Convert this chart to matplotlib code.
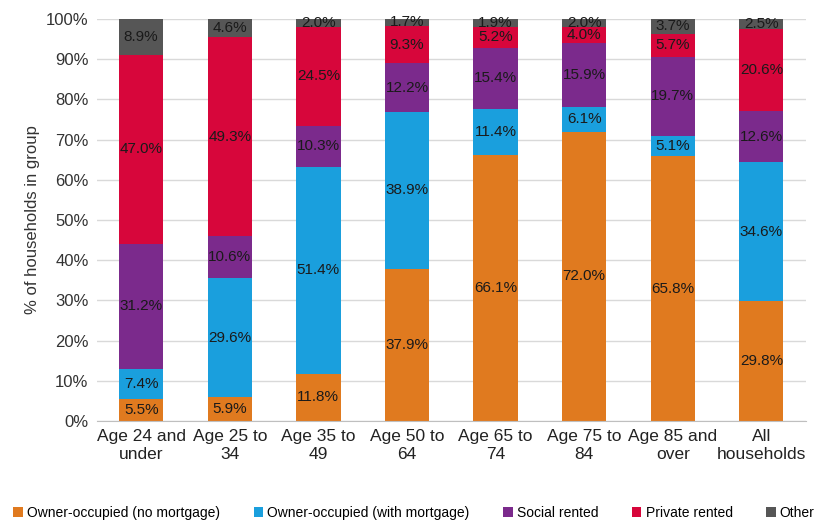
import matplotlib
matplotlib.use("Agg")
import matplotlib.pyplot as plt
import numpy as np

plt.rcParams['font.family'] = ['Liberation Sans', 'DejaVu Sans']

categories = ["Age 24 and\nunder", "Age 25 to\n34", "Age 35 to\n49", "Age 50 to\n64",
              "Age 65 to\n74", "Age 75 to\n84", "Age 85 and\nover", "All\nhouseholds"]
series_names = ["Owner-occupied (no mortgage)", "Owner-occupied (with mortgage)",
                "Social rented", "Private rented", "Other"]
owner_outright = [5.5, 5.9, 11.8, 37.9, 66.1, 72.0, 65.8, 29.8]
owner_mortgage = [7.4, 29.6, 51.4, 38.9, 11.4, 6.1, 5.1, 34.6]
social_rented = [31.2, 10.6, 10.3, 12.2, 15.4, 15.9, 19.7, 12.6]
private_rented = [47.0, 49.3, 24.5, 9.3, 5.2, 4.0, 5.7, 20.6]
other = [8.9, 4.6, 2.0, 1.7, 1.9, 2.0, 3.7, 2.5]
colors = ["#E07A1F", "#1A9FDD", "#7B2A8C", "#D7063B", "#565656"]

series = [owner_outright, owner_mortgage, social_rented, private_rented, other]

fig = plt.figure(figsize=(8.28, 5.27), dpi=100)
ax = fig.add_axes([0.117, 0.201, 0.856, 0.763])

x = np.arange(len(categories))
bottom = np.zeros(len(categories))
for name, vals, col in zip(series_names, series, colors):
    vals = np.array(vals)
    ax.bar(x, vals, bottom=bottom, width=0.5, color=col, label=name, zorder=2)
    for xi, b, v in zip(x, bottom, vals):
        ax.text(xi, b + v / 2, f"{v:.1f}%", ha="center", va="center",
                fontsize=11, color="#1a1a1a", zorder=3)
    bottom += vals

ax.set_ylim(0, 100)
ax.set_xlim(-0.5, len(categories) - 0.5)
ax.set_yticks(np.arange(0, 101, 10))
ax.set_yticklabels([f"{t}%" for t in range(0, 101, 10)], fontsize=12, color="#333333")
ax.set_xticks(x)
ax.set_xticklabels(categories, fontsize=12.5, color="#222222")
ax.set_ylabel("% of households in group", fontsize=12, color="#333333")
ax.yaxis.grid(True, color="#d9d9d9", linewidth=1, zorder=0)
ax.set_axisbelow(True)
for s in ["top", "right", "left"]:
    ax.spines[s].set_visible(False)
ax.spines["bottom"].set_color("#bfbfbf")
ax.tick_params(axis="both", length=0, pad=6)

fig.legend(*ax.get_legend_handles_labels(), loc="center", bbox_to_anchor=(0.5, 0.027),
           ncol=5, frameon=False, fontsize=10, handlelength=0.7, handleheight=0.7,
           handletextpad=0.3, columnspacing=2.4, borderaxespad=0)

fig.savefig("out.png", dpi=100)
